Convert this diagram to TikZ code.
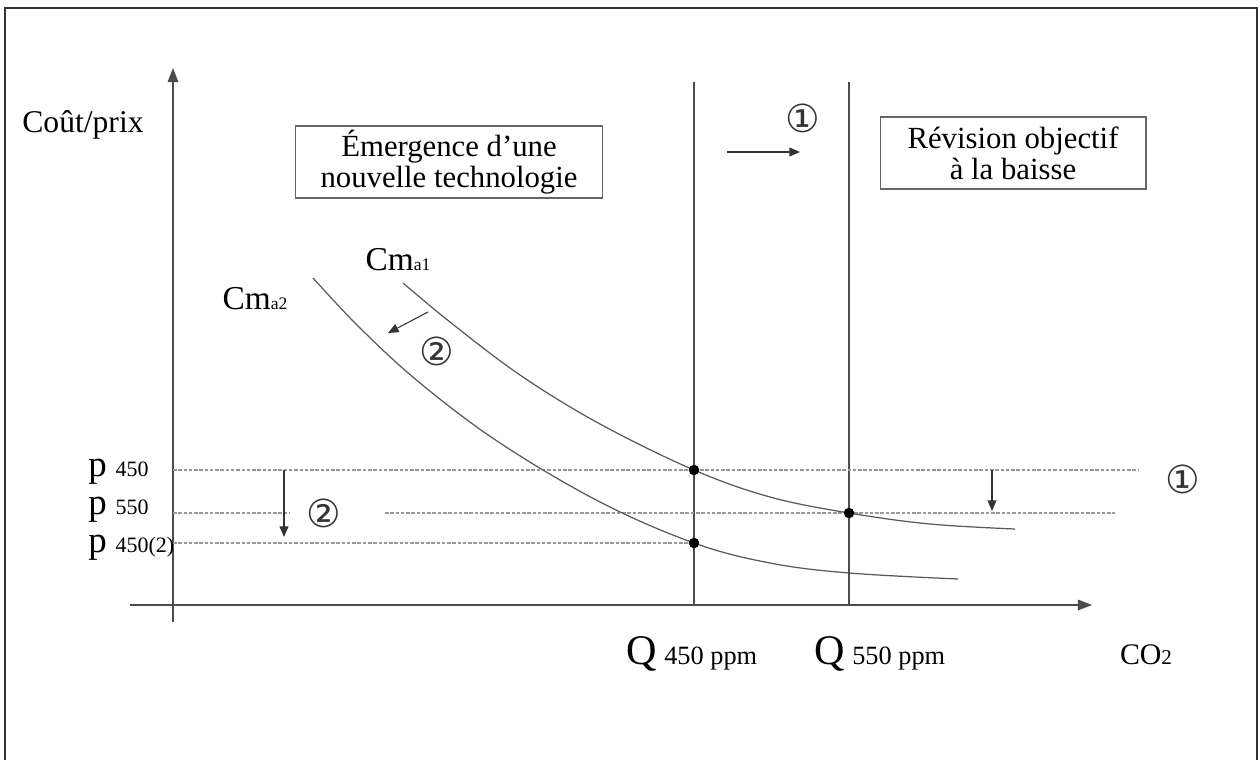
\documentclass[tikz,border=0pt]{standalone}
\usepackage{fontspec}
\setmainfont{Liberation Serif}
\newfontfamily\symfont{DejaVu Sans}
\usetikzlibrary{arrows.meta}
\begin{document}
\begin{tikzpicture}[x=0.02cm,y=-0.02cm,
  frame/.style={draw=black!80,line width=1.3pt},
  axis/.style={draw=black!70,line width=0.8pt,-{Triangle[length=8pt,width=6pt]}},
  vline/.style={draw=black!70,line width=0.8pt},
  curve/.style={draw=black!65,line width=0.7pt},
  dline/.style={draw=black!40,line width=0.6pt,dash pattern=on 2pt off 1pt},
  arr/.style={draw=black!80,line width=0.6pt,-{Triangle[length=6pt,width=5pt]}},
  dot/.style={circle,fill=black,inner sep=0pt,minimum size=6pt},
  lbl/.style={inner sep=0pt,font=\fontsize{18}{18}\selectfont},
  circ/.style={inner sep=0pt,text=black!80,font=\symfont\fontsize{22}{22}\selectfont},
  box/.style={draw=black!60,line width=0.6pt,align=center,inner sep=0pt,
    font=\fontsize{17.5}{17.5}\selectfont,minimum height=1.44cm},
  plbl/.style={inner sep=0pt,anchor=base west},
  qlbl/.style={inner sep=0pt,anchor=base}]
\useasboundingbox (0,0) rectangle (1260,760);
% frame
\draw[frame] (5,762) -- (5,8) -- (1257,8) -- (1257,762);
% axes
\coordinate (yb) at (173,622);
\coordinate (yt) at (173,68);
\coordinate (xl) at (130,605);
\coordinate (xr) at (1092,605);
\draw[axis] (yb) -- (yt);
\draw[axis] (xl) -- (xr);
% vertical lines
\coordinate (v1t) at (694,82); \coordinate (v1b) at (694,605);
\coordinate (v2t) at (849,82); \coordinate (v2b) at (849,605);
\draw[vline] (v1t) -- (v1b);
\draw[vline] (v2t) -- (v2b);
% dashed price lines
\draw[dline] (173,470) -- (1138,470);
\draw[dline] (173,513) -- (290,513);
\draw[dline] (385,513) -- (1115,513);
\draw[dline] (173,543) -- (694,543);
% curves
\draw[curve] plot[smooth,tension=0.6] coordinates {(403,283) (450,322) (520,375) (600,424) (694,470) (770,497) (849,513) (930,524) (1015,529)};
\draw[curve] plot[smooth,tension=0.6] coordinates {(313,278) (360,328) (420,383) (500,443) (600,502) (694,543) (770,563) (849,573) (958,579)};
% dots
\node[dot] (d1) at (694,470) {};
\node[dot] (d2) at (849,513) {};
\node[dot] (d3) at (694,543) {};
% labels
\node[lbl] (yl) at (83,125) {Coût/prix};
\node[box,minimum width=6.14cm] (b1) at (449,162) {Émergence d’une\\nouvelle technologie};
\node[box,minimum width=5.32cm] (b2) at (1013,153) {Révision objectif\\à la baisse};
\node[circ] (c1a) at (803,118) {①};
\coordinate (a1s) at (727,152); \coordinate (a1e) at (800,152);
\draw[arr] (a1s) -- (a1e);
\node[inner sep=0pt,anchor=base] (cm1) at (398,270) {\fontsize{19}{19}\selectfont Cm\fontsize{10}{10}\selectfont a1};
\node[inner sep=0pt,anchor=base] (cm2) at (255,309) {\fontsize{19}{19}\selectfont Cm\fontsize{10}{10}\selectfont a2};
\coordinate (a2s) at (428,312); \coordinate (a2e) at (388,333);
\draw[arr] (a2s) -- (a2e);
\node[circ] (c2a) at (437,351) {②};
\node[circ] (c2b) at (324,513) {②};
\node[circ] (c1b) at (1183,479) {①};
\coordinate (a3s) at (284,470); \coordinate (a3e) at (284,537);
\draw[arr] (a3s) -- (a3e);
\coordinate (a4s) at (992,470); \coordinate (a4e) at (992,511);
\draw[arr] (a4s) -- (a4e);
% p labels
\node[plbl] (p1) at (88,476) {\fontsize{21}{21}\selectfont p\hspace{5pt}\fontsize{12.5}{12.5}\selectfont 450};
\node[plbl] (p2) at (88,514) {\fontsize{21}{21}\selectfont p\hspace{5pt}\fontsize{12.5}{12.5}\selectfont 550};
\node[plbl] (p3) at (88,552) {\fontsize{21}{21}\selectfont p\hspace{5pt}\fontsize{12.5}{12.5}\selectfont 450(2)};
% Q labels
\node[qlbl] (q1) at (692,664) {\fontsize{24}{24}\selectfont Q\hspace{4pt}\fontsize{15}{15}\selectfont 450 ppm};
\node[qlbl] (q2) at (880,664) {\fontsize{24}{24}\selectfont Q\hspace{4pt}\fontsize{15}{15}\selectfont 550 ppm};
\node[qlbl] (co2) at (1146,664) {\fontsize{17}{17}\selectfont CO\fontsize{12}{12}\selectfont 2};
\end{tikzpicture}
\end{document}
